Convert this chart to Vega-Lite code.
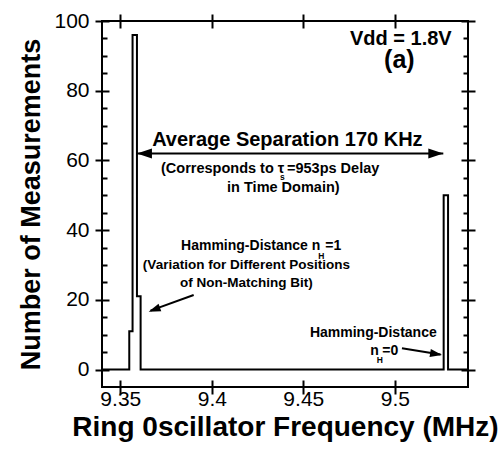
{
  "$schema": "https://vega.github.io/schema/vega-lite/v6.json",
  "width": 366,
  "height": 366,
  "autosize": {"type": "none"},
  "padding": {"left": 102, "top": 21, "right": 32, "bottom": 70},
  "background": "white",
  "config": {
    "font": "Liberation Sans",
    "view": {"stroke": "black", "strokeWidth": 2},
    "axis": {"grid": false, "domain": false, "tickColor": "black", "tickWidth": 2, "labelColor": "black", "titleColor": "black"},
    "text": {"fontWeight": "bold", "baseline": "alphabetic", "color": "black"}
  },
  "datasets": {
    "hist": [
      {"i": 1, "freq": 9.34, "count": 0},
      {"i": 2, "freq": 9.3549, "count": 0},
      {"i": 3, "freq": 9.3549, "count": 11},
      {"i": 4, "freq": 9.3567, "count": 11},
      {"i": 5, "freq": 9.3567, "count": 96},
      {"i": 6, "freq": 9.3591, "count": 96},
      {"i": 7, "freq": 9.3591, "count": 21},
      {"i": 8, "freq": 9.3611, "count": 21},
      {"i": 9, "freq": 9.3611, "count": 0},
      {"i": 10, "freq": 9.5267, "count": 0},
      {"i": 11, "freq": 9.5267, "count": 50},
      {"i": 12, "freq": 9.5291, "count": 50},
      {"i": 13, "freq": 9.5291, "count": 0},
      {"i": 14, "freq": 9.54, "count": 0}
    ],
    "arrows": [
      {"name": "sep", "x": 9.3591, "y": 62, "x2": 9.5265, "y2": 62},
      {"name": "h1", "x": 9.3901, "y": 21.4, "x2": 9.3665, "y2": 16.9},
      {"name": "h0", "x": 9.5039, "y": 6.11, "x2": 9.5250, "y2": 4.33}
    ],
    "heads": [
      {"name": "sepL", "x": 9.3591, "y": 62},
      {"name": "sepR", "x": 9.5265, "y": 62},
      {"name": "h1", "x": 9.3655, "y": 16.6},
      {"name": "h0", "x": 9.5258, "y": 4.19}
    ],
    "texts": [
      {"label": "Vdd = 1.8V", "x": 9.5033, "y": 93.1},
      {"label": "(a)", "x": 9.5025, "y": 86.5},
      {"label": "Average Separation 170 KHz", "x": 9.4413, "y": 64.1},
      {"label": "(Corresponds to \u03c4", "x": 9.4396, "y": 56.3},
      {"label": "=953ps Delay", "x": 9.4411, "y": 56.3},
      {"label": "in Time Domain)", "x": 9.4391, "y": 50.95},
      {"label": "Hamming-Distance n", "x": 9.4593, "y": 34.2},
      {"label": "=1", "x": 9.4620, "y": 34.2},
      {"label": "(Variation for Different Positions", "x": 9.4189, "y": 28.9},
      {"label": "of Non-Matching Bit)", "x": 9.4189, "y": 23.7},
      {"label": "Hamming-Distance", "x": 9.5229, "y": 9.27},
      {"label": "n", "x": 9.4866, "y": 4.19},
      {"label": "=0", "x": 9.4932, "y": 4.19},
      {"label": "s", "x": 9.4385, "y": 54.5},
      {"label": "H", "x": 9.4598, "y": 31.8},
      {"label": "H", "x": 9.4918, "y": 2.0}
    ]
  },
  "resolve": {"axis": {"x": "independent", "y": "independent"}},
  "layer": [
    {
      "data": {"name": "hist"},
      "mark": {"type": "line", "color": "black", "strokeWidth": 2, "interpolate": "linear"},
      "encoding": {
        "x": {"field": "freq", "type": "quantitative",
          "scale": {"domain": [9.34, 9.54], "nice": false, "zero": false},
          "axis": {"orient": "bottom", "offset": 7, "tickSize": -14, "values": [9.35, 9.4, 9.45, 9.5], "format": "~g",
            "labelFontSize": 21, "labelPadding": 8,
            "title": "Ring 0scillator Frequency (MHz)", "titleFontSize": 28, "titleFontWeight": "bold", "titlePadding": 4}},
        "y": {"field": "count", "type": "quantitative",
          "scale": {"domain": [-5, 100], "nice": false, "zero": false},
          "axis": {"orient": "left", "offset": 7, "tickSize": -14, "values": [0, 20, 40, 60, 80, 100],
            "labelFontSize": 21, "labelPadding": 20,
            "title": "Number of Measurements", "titleFontSize": 27, "titleFontWeight": "bold", "titlePadding": 8}},
        "order": {"field": "i", "type": "quantitative"}
      }
    },
    {
      "data": {"name": "arrows"},
      "mark": {"type": "rule", "color": "black", "strokeWidth": 2},
      "encoding": {
        "x": {"field": "x", "type": "quantitative",
          "axis": {"orient": "top", "offset": 7, "tickSize": -14, "values": [9.35, 9.4, 9.45, 9.5], "labels": false, "title": null}},
        "y": {"field": "y", "type": "quantitative",
          "axis": {"orient": "left", "offset": 0, "tickSize": -5, "values": [5, 10, 15, 25, 30, 35, 45, 50, 55, 65, 70, 75, 85, 90, 95], "labels": false, "title": null}},
        "x2": {"field": "x2"},
        "y2": {"field": "y2"}
      }
    },
    {
      "data": {"name": "heads"},
      "transform": [{"filter": "datum.name === 'sepL'"}],
      "mark": {"type": "point", "shape": "M0,0L2,-0.67L2,0.67Z", "size": 225, "filled": true, "color": "black", "opacity": 1, "angle": 0},
      "encoding": {
        "x": {"field": "x", "type": "quantitative", "axis": null},
        "y": {"field": "y", "type": "quantitative",
          "axis": {"orient": "right", "offset": 7, "tickSize": -14, "values": [0, 20, 40, 60, 80, 100], "labels": false, "title": null}}
      }
    },
    {
      "data": {"name": "heads"},
      "transform": [{"filter": "datum.name === 'sepR'"}],
      "mark": {"type": "point", "shape": "M0,0L2,-0.67L2,0.67Z", "size": 225, "filled": true, "color": "black", "opacity": 1, "angle": 180},
      "encoding": {
        "x": {"field": "x", "type": "quantitative", "axis": null},
        "y": {"field": "y", "type": "quantitative",
          "axis": {"orient": "right", "offset": 0, "tickSize": -5, "values": [5, 10, 15, 25, 30, 35, 45, 50, 55, 65, 70, 75, 85, 90, 95], "labels": false, "title": null}}
      }
    },
    {
      "data": {"name": "heads"},
      "transform": [{"filter": "datum.name === 'h1'"}],
      "mark": {"type": "point", "shape": "M0,0L2,-0.67L2,0.67Z", "size": 144, "filled": true, "color": "black", "opacity": 1, "angle": -20.4},
      "encoding": {
        "x": {"field": "x", "type": "quantitative", "axis": null},
        "y": {"field": "y", "type": "quantitative", "axis": null}
      }
    },
    {
      "data": {"name": "heads"},
      "transform": [{"filter": "datum.name === 'h0'"}],
      "mark": {"type": "point", "shape": "M0,0L2,-0.67L2,0.67Z", "size": 144, "filled": true, "color": "black", "opacity": 1, "angle": 189.5},
      "encoding": {
        "x": {"field": "x", "type": "quantitative", "axis": null},
        "y": {"field": "y", "type": "quantitative", "axis": null}
      }
    },
    {
      "data": {"name": "texts"},
      "transform": [{"filter": {"field": "label", "oneOf": ["Vdd = 1.8V", "Average Separation 170 KHz"]}}],
      "mark": {"type": "text", "fontSize": 20, "align": "center"},
      "encoding": {
        "x": {"field": "x", "type": "quantitative", "axis": null},
        "y": {"field": "y", "type": "quantitative", "axis": null},
        "text": {"field": "label"}
      }
    },
    {
      "data": {"name": "texts"},
      "transform": [{"filter": {"field": "label", "oneOf": ["(a)"]}}],
      "mark": {"type": "text", "fontSize": 25, "align": "center"},
      "encoding": {
        "x": {"field": "x", "type": "quantitative", "axis": null},
        "y": {"field": "y", "type": "quantitative", "axis": null},
        "text": {"field": "label"}
      }
    },
    {
      "data": {"name": "texts"},
      "transform": [{"filter": {"field": "label", "oneOf": ["in Time Domain)"]}}],
      "mark": {"type": "text", "fontSize": 14.5, "align": "center"},
      "encoding": {
        "x": {"field": "x", "type": "quantitative", "axis": null},
        "y": {"field": "y", "type": "quantitative", "axis": null},
        "text": {"field": "label"}
      }
    },
    {
      "data": {"name": "texts"},
      "transform": [{"filter": {"field": "label", "oneOf": ["(Variation for Different Positions", "of Non-Matching Bit)"]}}],
      "mark": {"type": "text", "fontSize": 13.5, "align": "center"},
      "encoding": {
        "x": {"field": "x", "type": "quantitative", "axis": null},
        "y": {"field": "y", "type": "quantitative", "axis": null},
        "text": {"field": "label"}
      }
    },
    {
      "data": {"name": "texts"},
      "transform": [{"filter": {"field": "label", "oneOf": ["s", "H"]}}],
      "mark": {"type": "text", "fontSize": 8.5, "align": "center"},
      "encoding": {
        "x": {"field": "x", "type": "quantitative", "axis": null},
        "y": {"field": "y", "type": "quantitative", "axis": null},
        "text": {"field": "label"}
      }
    },
    {
      "data": {"name": "texts"},
      "transform": [{"filter": {"field": "label", "oneOf": ["(Corresponds to \u03c4"]}}],
      "mark": {"type": "text", "fontSize": 14.5, "align": "right"},
      "encoding": {
        "x": {"field": "x", "type": "quantitative", "axis": null},
        "y": {"field": "y", "type": "quantitative", "axis": null},
        "text": {"field": "label"}
      }
    },
    {
      "data": {"name": "texts"},
      "transform": [{"filter": {"field": "label", "oneOf": ["=953ps Delay"]}}],
      "mark": {"type": "text", "fontSize": 14.5, "align": "left"},
      "encoding": {
        "x": {"field": "x", "type": "quantitative", "axis": null},
        "y": {"field": "y", "type": "quantitative", "axis": null},
        "text": {"field": "label"}
      }
    },
    {
      "data": {"name": "texts"},
      "transform": [{"filter": {"field": "label", "oneOf": ["Hamming-Distance n", "Hamming-Distance"]}}],
      "mark": {"type": "text", "fontSize": 14, "align": "right"},
      "encoding": {
        "x": {"field": "x", "type": "quantitative", "axis": null},
        "y": {"field": "y", "type": "quantitative", "axis": null},
        "text": {"field": "label"}
      }
    },
    {
      "data": {"name": "texts"},
      "transform": [{"filter": {"field": "label", "oneOf": ["=1", "n", "=0"]}}],
      "mark": {"type": "text", "fontSize": 14, "align": "left"},
      "encoding": {
        "x": {"field": "x", "type": "quantitative", "axis": null},
        "y": {"field": "y", "type": "quantitative", "axis": null},
        "text": {"field": "label"}
      }
    }
  ]
}
